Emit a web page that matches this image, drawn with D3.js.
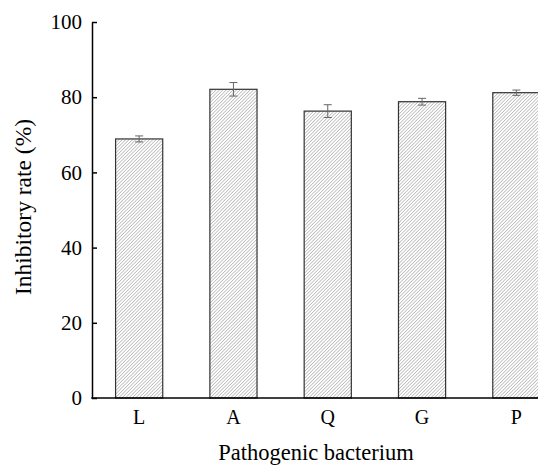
<!doctype html>
<html lang="en">
<head>
<meta charset="utf-8">
<title>Inhibitory rate</title>
<script src="https://cdn.jsdelivr.net/npm/d3@7"></script>
<style>
  body { margin: 0; background: #fff; }
  svg text { font-family: "Liberation Serif", "DejaVu Serif", serif; fill: #000; }
</style>
</head>
<body>
<script>
    var categories = ["L", "A", "Q", "G", "P"];
    var values = [68.9, 82.1, 76.3, 78.8, 81.2];
    var errors = [0.8, 1.8, 1.7, 0.9, 0.7];
    var yTicks = [0, 20, 40, 60, 80, 100];

    var svg = d3.select("body").append("svg")
            .attr("width", 538).attr("height", 465)
            .attr("font-family", "Liberation Serif, serif");

    var defs = svg.append("defs");
    var pat = defs.append("pattern")
            .attr("id", "hatch")
            .attr("patternUnits", "userSpaceOnUse")
            .attr("width", 2.4).attr("height", 2.4)
            .attr("patternTransform", "rotate(45)");
    pat.append("rect").attr("width", 2.4).attr("height", 2.4).attr("fill", "#fff");
    pat.append("line")
            .attr("x1", 0).attr("y1", 0).attr("x2", 0).attr("y2", 2.4)
            .attr("stroke", "#909090").attr("stroke-width", 1);

    var x = d3.scaleBand().domain(categories).range([92, 563.5])
            .paddingInner(0.5).paddingOuter(0.25);
    var y = d3.scaleLinear().domain([0, 100]).range([398, 22]);

    // bars
    svg.append("g").selectAll("rect")
        .data(values).enter().append("rect")
            .attr("x", function(d, i){ return x(categories[i]); })
            .attr("y", function(d){ return y(d); })
            .attr("width", x.bandwidth())
            .attr("height", function(d){ return y(0) - y(d); })
            .attr("fill", "url(#hatch)")
            .attr("stroke", "#333").attr("stroke-width", 1.2);

    // error bars
    var eb = svg.append("g").attr("stroke", "#666").attr("stroke-width", 1);
    values.forEach(function(v, i){
        var cx = x(categories[i]) + x.bandwidth() / 2;
        var top = y(v + errors[i]), bot = y(v - errors[i]);
        eb.append("line").attr("x1", cx).attr("x2", cx).attr("y1", top).attr("y2", bot);
        eb.append("line").attr("x1", cx - 4).attr("x2", cx + 4).attr("y1", top).attr("y2", top);
        eb.append("line").attr("x1", cx - 4).attr("x2", cx + 4).attr("y1", bot).attr("y2", bot);
    });

    // y axis
    var yAxis = svg.append("g")
        .attr("transform", "translate(92,0)")
        .call(d3.axisLeft(y).tickValues(yTicks).tickSizeInner(-5).tickSizeOuter(0).tickPadding(10))
        .attr("font-family", "Liberation Serif, serif").attr("font-size", 21);
    yAxis.select(".domain").attr("stroke", "#000").attr("stroke-width", 1.5);
    yAxis.selectAll(".tick line").attr("stroke", "#000").attr("stroke-width", 1.5);

    // x axis
    var xAxis = svg.append("g")
        .attr("transform", "translate(0,398)")
        .call(d3.axisBottom(x).tickSize(0).tickPadding(12))
        .attr("font-family", "Liberation Serif, serif").attr("font-size", 20);
    xAxis.select(".domain").attr("stroke", "#000").attr("stroke-width", 1.5)
        .attr("d", "M91.25,0H538");

    svg.append("text")
        .attr("transform", "translate(31,207) rotate(-90)")
        .attr("text-anchor", "middle")
        .attr("font-size", 23.5)
        .text("Inhibitory rate (%)");

    svg.append("text")
        .attr("x", 316).attr("y", 460)
        .attr("text-anchor", "middle")
        .attr("font-size", 22.5)
        .text("Pathogenic bacterium");
</script>
</body>
</html>
